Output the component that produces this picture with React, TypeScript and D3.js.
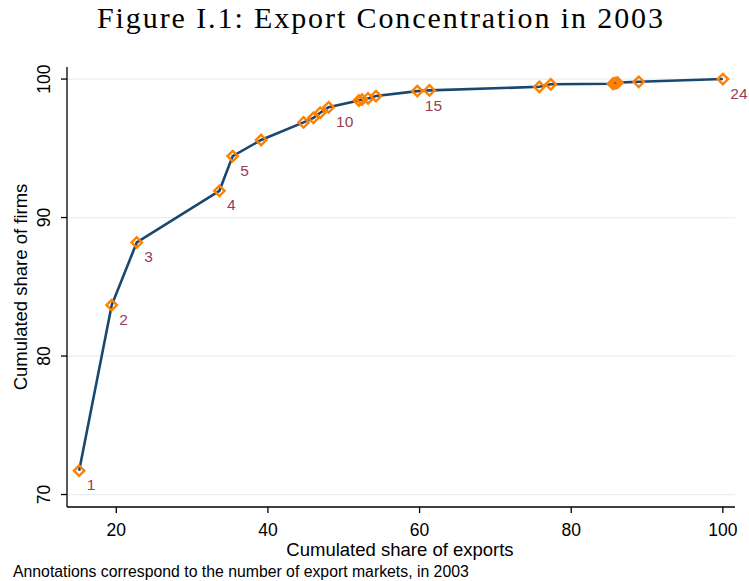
import React from "react";
import * as d3 from "d3";

const exportShare = [15.1, 19.4, 22.7, 33.6, 35.35, 39.1, 44.7, 46.0, 46.9, 48.0, 52.0, 52.4, 53.2, 54.25, 59.7, 61.3, 75.8, 77.3, 85.5, 85.7, 85.9, 86.1, 88.9, 100];
const firmShare = [71.72, 83.68, 88.2, 91.93, 94.44, 95.6, 96.87, 97.2, 97.57, 97.96, 98.45, 98.52, 98.6, 98.77, 99.13, 99.18, 99.44, 99.62, 99.66, 99.69, 99.71, 99.74, 99.8, 100];
const markets = d3.range(1, 25);
const annotated = [1, 2, 3, 4, 5, 10, 15, 24];
const xTicks = [20, 40, 60, 80, 100];
const yTicks = [70, 80, 90, 100];

const title = "Figure I.1: Export Concentration in 2003";
const xTitle = "Cumulated share of exports";
const yTitle = "Cumulated share of firms";
const note = "Annotations correspond to the number of export markets, in 2003";

export default function App() {
  const W = 749, H = 581;
  const left = 67, right = 735, top = 67, bottom = 507;
  const x = d3.scaleLinear().domain([13.5, 101.6]).range([left, right]);
  const y = d3.scaleLinear().domain([69.1, 100.87]).range([bottom, top]);
  const pts = exportShare.map((v, i) => ({ x: v, y: firmShare[i], n: markets[i] }));
  const line = d3.line<{ x: number; y: number }>().x(d => x(d.x)).y(d => y(d.y));
  const sans = "'Liberation Sans', Arial, sans-serif";
  const navy = "#1a476f";
  const orange = "#ff8000";
  const maroon = "#9a3e52";
  const r = 5.2;
  return (
    <svg width={W} height={H} style={{ position: "absolute", left: 0, top: 0, background: "#fff" }}>
      <text x={97} y={28} textLength={566} lengthAdjust="spacing" fontFamily="'Liberation Serif', 'Times New Roman', serif" fontSize={30} fill="#000">{title}</text>
      {yTicks.map(t => (
        <line key={"g" + t} x1={left} x2={right} y1={y(t)} y2={y(t)} stroke="#e6eff2" strokeWidth={1.2} />
      ))}
      <line x1={left} x2={left} y1={top} y2={bottom} stroke="#000" strokeWidth={1.3} />
      <line x1={left} x2={right} y1={bottom} y2={bottom} stroke="#000" strokeWidth={1.3} />
      {yTicks.map(t => (
        <g key={"y" + t}>
          <line x1={left - 6} x2={left} y1={y(t)} y2={y(t)} stroke="#000" strokeWidth={1.3} />
          <text transform={`translate(${50},${y(t)}) rotate(-90)`} textAnchor="middle" fontFamily={sans} fontSize={17.5} fill="#000">{t}</text>
        </g>
      ))}
      {xTicks.map(t => (
        <g key={"x" + t}>
          <line x1={x(t)} x2={x(t)} y1={bottom} y2={bottom + 6} stroke="#000" strokeWidth={1.3} />
          <text x={x(t)} y={536} textAnchor="middle" fontFamily={sans} fontSize={17.5} fill="#000">{t}</text>
        </g>
      ))}
      <text x={400} y={556} textAnchor="middle" fontFamily={sans} fontSize={18.5} fill="#000">{xTitle}</text>
      <text transform={`translate(${27},${287}) rotate(-90)`} textAnchor="middle" fontFamily={sans} fontSize={18.5} fill="#000">{yTitle}</text>
      <text x={13} y={577} fontFamily={sans} fontSize={15.8} fill="#000">{note}</text>
      <path d={line(pts) || ""} fill="none" stroke={navy} strokeWidth={2.6} />
      {pts.map((p, i) => (
        <path key={"m" + i} d={`M${x(p.x)},${y(p.y) - r}L${x(p.x) + r},${y(p.y)}L${x(p.x)},${y(p.y) + r}L${x(p.x) - r},${y(p.y)}Z`} fill="none" stroke={orange} strokeWidth={2.4} />
      ))}
      {pts.filter(p => annotated.includes(p.n)).map(p => (
        <text key={"l" + p.n} x={x(p.x) + 7.5} y={y(p.y) + 19.5} fontFamily={sans} fontSize={15.5} fill={maroon}>{p.n}</text>
      ))}
    </svg>
  );
}
